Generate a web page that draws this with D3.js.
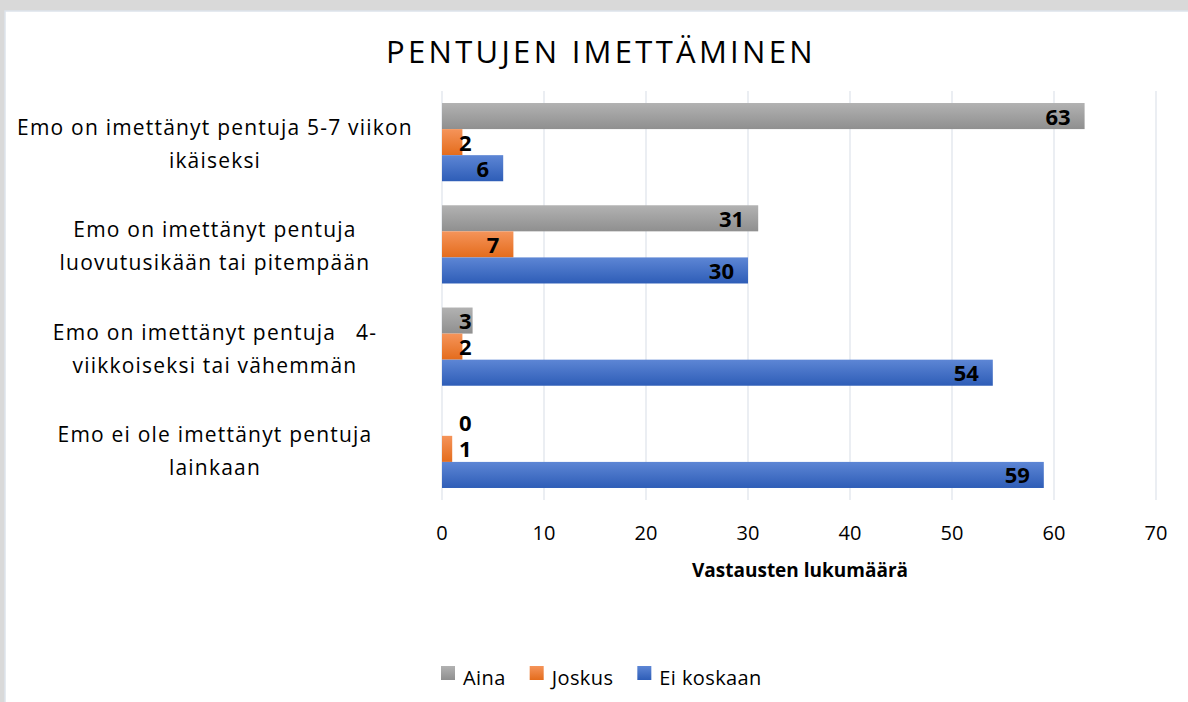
<!DOCTYPE html>
<html lang="fi">
<head>
<meta charset="UTF-8">
<title>Pentujen imettäminen</title>
<script src="https://cdn.jsdelivr.net/npm/d3@7"></script>
<style>
  body { margin: 0; background: #d9d9d9; }
  text { font-family: "Open Sans", "Liberation Sans", sans-serif; fill: #000; }
</style>
</head>
<body>
<script>
    // data
    var categories = [
        ["Emo on imettänyt pentuja 5-7 viikon", "ikäiseksi"],
        ["Emo on imettänyt pentuja", "luovutusikään tai pitempään"],
        ["Emo on imettänyt pentuja   4-", "viikkoiseksi tai vähemmän"],
        ["Emo ei ole imettänyt pentuja", "lainkaan"]
    ];
    var seriesNames = ["Aina", "Joskus", "Ei koskaan"];
    var aina = [63, 31, 3, 0];
    var joskus = [2, 7, 2, 1];
    var eiKoskaan = [6, 30, 54, 59];
    var xTicks = [0, 10, 20, 30, 40, 50, 60, 70];
    var seriesValues = [aina, joskus, eiKoskaan];
    var seriesColors = [["#b2b2b2", "#8f8f8f"], ["#f5945a", "#e46c1c"], ["#5d86d5", "#2e5db7"]];

    var width = 1188, height = 702;
    var svg = d3.select("body").append("svg")
        .attr("width", width)
        .attr("height", height)
        .style("display", "block");

    // white chart panel on grey
    svg.append("rect").attr("x", 5).attr("y", 11)
        .attr("width", width).attr("height", height)
        .attr("fill", "#fff").attr("stroke", "#dde4ec").attr("stroke-width", 1.5);

    var defs = svg.append("defs");
    seriesColors.forEach(function(c, i) {
        var g = defs.append("linearGradient").attr("id", "grad" + i)
            .attr("x1", 0).attr("y1", 0).attr("x2", 0).attr("y2", 1);
        g.append("stop").attr("offset", "0%").attr("stop-color", c[0]);
        g.append("stop").attr("offset", "100%").attr("stop-color", c[1]);
    });

    var x = d3.scaleLinear().domain([0, 70]).range([442, 1156]);
    var y0 = d3.scaleBand().domain(d3.range(categories.length))
        .range([91, 500]).paddingInner(0.235).paddingOuter(0.1175);
    var y1 = d3.scaleBand().domain(d3.range(seriesNames.length))
        .range([0, y0.bandwidth()]);

    // gridlines
    svg.append("g").selectAll("line").data(xTicks).enter().append("line")
        .attr("x1", function(d) { return x(d); })
        .attr("x2", function(d) { return x(d); })
        .attr("y1", 91).attr("y2", 500)
        .attr("stroke", "#e1e5ec").attr("stroke-width", 1.3);

    // x tick labels
    svg.append("g").selectAll("text").data(xTicks).enter().append("text")
        .attr("x", function(d) { return x(d); })
        .attr("y", 540)
        .attr("text-anchor", "middle")
        .style("font-size", "20px")
        .text(function(d) { return d; });

    // bars
    var groups = svg.append("g").selectAll("g").data(categories).enter().append("g")
        .attr("transform", function(d, i) { return "translate(0," + y0(i) + ")"; });

    groups.each(function(cat, ci) {
        var g = d3.select(this);
        seriesNames.forEach(function(s, si) {
            var v = seriesValues[si][ci];
            g.append("rect")
                .attr("x", x(0))
                .attr("y", y1(si))
                .attr("width", x(v) - x(0))
                .attr("height", y1.bandwidth())
                .attr("fill", "url(#grad" + si + ")");
            var t = g.append("text")
                .attr("y", y1(si) + y1.bandwidth() / 2 + 8.5)
                .attr("text-anchor", "end")
                .style("font-size", "22px")
                .style("font-weight", "bold")
                .text(v);
            var w = t.node().getComputedTextLength();
            t.attr("x", Math.max(x(v) - 14, x(0) + 17 + w));
        });
    });

    // category labels
    var catLabels = svg.append("g").selectAll("text").data(categories).enter().append("text")
        .attr("text-anchor", "middle")
        .style("font-size", "21px")
        .style("letter-spacing", "1.2px")
        .attr("transform", function(d, i) {
            return "translate(215," + (y0(i) + y0.bandwidth() / 2) + ")";
        });
    catLabels.each(function(lines) {
        var t = d3.select(this);
        lines.forEach(function(line, li) {
            t.append("tspan").attr("x", 0).attr("y", li === 0 ? -7 : 26)
                .style("white-space", "pre").text(line);
        });
    });

    // title
    svg.append("text").attr("x", 601).attr("y", 63)
        .attr("text-anchor", "middle")
        .style("font-size", "31px")
        .style("letter-spacing", "3.3px")
        .text("PENTUJEN IMETTÄMINEN");

    // axis title
    svg.append("text").attr("x", 800).attr("y", 577)
        .attr("text-anchor", "middle")
        .style("font-size", "19px")
        .style("font-weight", "bold")
        .text("Vastausten lukumäärä");

    // legend
    var legend = svg.append("g");
    var lx = 441;
    seriesNames.forEach(function(s, i) {
        legend.append("rect").attr("x", lx).attr("y", 666)
            .attr("width", 14).attr("height", 14)
            .attr("fill", "url(#grad" + i + ")");
        var t = legend.append("text").attr("x", lx + 22).attr("y", 685)
            .style("font-size", "20px").style("letter-spacing", "0.4px").text(s);
        lx += 22 + t.node().getComputedTextLength() + 24;
    });
</script>
</body>
</html>
